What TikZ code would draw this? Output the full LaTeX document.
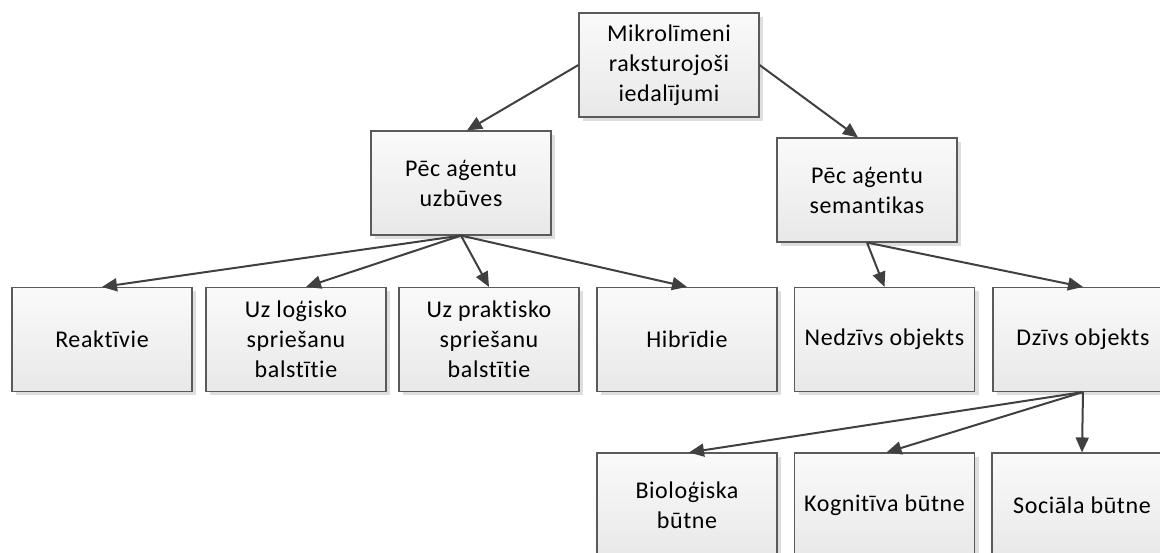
\documentclass[tikz,border=0pt]{standalone}
\usepackage{fontspec}
\setmainfont[RawFeature={-liga;-clig;-calt;-dlig}, LetterSpace=2.5]{Carlito}
\usetikzlibrary{arrows.meta,shadows}
\definecolor{edgegray}{HTML}{5A5A5A}
\definecolor{arrowgray}{HTML}{404040}
\definecolor{shadowgray}{HTML}{DEDEDE}
\tikzset{
  box/.style={draw=edgegray, line width=1.1pt, top color=white!98!black,
    bottom color=white!91!black, minimum width=180pt, minimum height=104pt,
    align=center, inner sep=4pt,
    font=\fontsize{24}{30}\selectfont,
    drop shadow={shadow xshift=4pt, shadow yshift=-4pt, fill=shadowgray, opacity=1}},
  link/.style={draw=arrowgray, line width=2pt,
    -{Triangle[length=15pt,width=13pt]}}
}
\begin{document}
\begin{tikzpicture}[x=1pt,y=-1pt]
\clip (0,0) rectangle (1160,553);
\fill[white] (0,0) rectangle (1160,553);

% root
\node[box] (root) at (669,65) {Mikrolīmeni\\raksturojoši\\iedalījumi};

% second level
\node[box] (uzb) at (461,183) {Pēc aģentu\\uzbūves};
\node[box] (sem) at (867,190) {Pēc aģentu\\semantikas};

% third level
\node[box] (reak) at (102,339.5) {Reaktīvie};
\node[box] (log)  at (296,339.5) {Uz loģisko\\spriešanu\\balstītie};
\node[box] (prak) at (489,339.5) {Uz praktisko\\spriešanu\\balstītie};
\node[box] (hib)  at (687,339.5) {Hibrīdie};
\node[box] (nedz) at (884.5,339.5) {Nedzīvs objekts};
\node[box] (dz)   at (1083,339.5) {Dzīvs objekts};

% fourth level
\node[box] (bio)  at (687,505) {Bioloģiska\\būtne};
\node[box] (kog)  at (884.5,505) {Kognitīva būtne};
\node[box] (soc)  at (1082,505) {Sociāla būtne};

% connectors
\draw[link] (root.west) -- ([xshift=6pt]uzb.north);
\draw[link] (root.east) -- ([xshift=-9pt]sem.north);

\draw[link] (uzb.south) -- (reak.north);
\draw[link] (uzb.south) -- ([xshift=10pt]log.north);
\draw[link] (uzb.south) -- (prak.north);
\draw[link] (uzb.south) -- (hib.north);

\draw[link] (sem.south) -- (nedz.north);
\draw[link] (sem.south) -- (dz.north);

\draw[link] (dz.south) -- ([xshift=2pt]bio.north);
\draw[link] (dz.south) -- ([xshift=2pt]kog.north);
\draw[link] (dz.south) -- (soc.north);
\end{tikzpicture}
\end{document}
